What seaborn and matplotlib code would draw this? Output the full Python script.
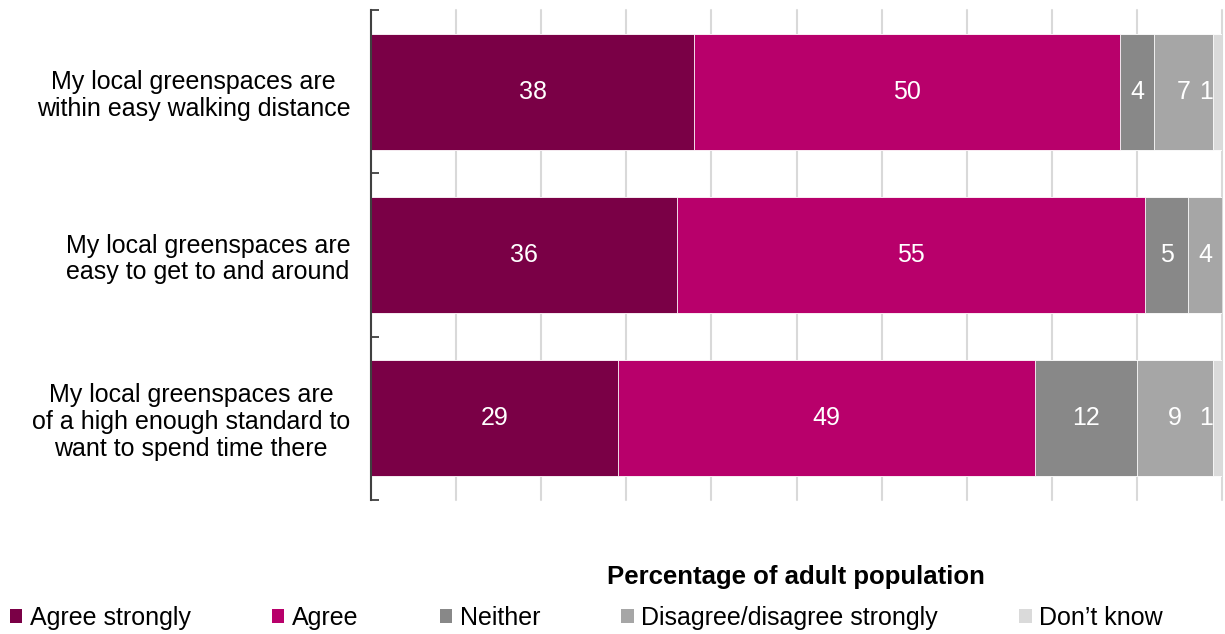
import numpy as np
import pandas as pd
import matplotlib
matplotlib.use("Agg")
import matplotlib.pyplot as plt
from matplotlib.patches import Patch
import seaborn as sns

# Survey statements and response shares (% of adults)
statements = [
    "My local greenspaces are\nwithin easy walking distance",
    "My local greenspaces are\neasy to get to and around",
    "My local greenspaces are\nof a high enough standard to\nwant to spend time there",
]
responses = ["Agree strongly", "Agree", "Neither", "Disagree/disagree strongly", "Don\u2019t know"]
agree_strongly = [38, 36, 29]
agree = [50, 55, 49]
neither = [4, 5, 12]
disagree = [7, 4, 9]
dont_know = [1, 0, 1]
colors = ["#7A0046", "#B8006B", "#888888", "#A6A6A6", "#DADADA"]

sns.set_theme(style="white")
plt.rcParams["font.family"] = ["Liberation Sans", "DejaVu Sans"]
plt.rcParams["text.color"] = "black"
plt.rcParams["ytick.labelcolor"] = "black"

FS = 18

values = np.array([agree_strongly, agree, neither, disagree, dont_know], dtype=float)
cum = np.cumsum(values, axis=0)

fig = plt.figure(figsize=(12.25, 6.34), dpi=100)
ax = fig.add_axes([371 / 1225, 1 - 500 / 634, (1222 - 371) / 1225, 490 / 634])

# Stacked bars: draw cumulative totals from the outermost segment inwards
for i in range(len(responses) - 1, -1, -1):
    df = pd.DataFrame({"statement": statements, "total": cum[i]})
    sns.barplot(data=df, x="total", y="statement", orient="h", color=colors[i],
                width=0.71, edgecolor="white", linewidth=0.6, saturation=1,
                ax=ax, zorder=2)

# Segment value labels
for i in range(len(responses)):
    for j in range(len(statements)):
        v = values[i, j]
        if v <= 0:
            continue
        left = cum[i, j] - v
        if v < 2:
            ax.text(left - 0.1, j, f"{v:g}", ha="right", va="center",
                    color="white", fontsize=FS, zorder=5)
        else:
            ax.text(left + v / 2, j, f"{v:g}", ha="center", va="center",
                    color="white", fontsize=FS, zorder=5)

ax.set_xlim(0, 100)
ax.set_ylim(2.5, -0.5)
ax.set_xticks(np.arange(0, 101, 10))
ax.set_xticklabels([])
ax.tick_params(axis="x", length=0)
ax.xaxis.grid(True, color="#D9D9D9", linewidth=1.5, zorder=0, clip_on=False)
ax.set_axisbelow(True)
ax.set_xlabel("")
ax.set_ylabel("")

# Category labels with boundary ticks on the left spine
ax.tick_params(axis="y", which="major", left=False, length=0, pad=15, labelsize=FS,
               labelcolor="black")
ax.set_yticks([-0.5, 0.5, 1.5, 2.5], minor=True)
ax.tick_params(axis="y", which="minor", left=True, direction="in", length=6,
               width=1.3, color="#404040")
for lbl in ax.get_yticklabels():
    lbl.set_multialignment("center")
    lbl.set_linespacing(1.15)

for side in ["top", "right", "bottom"]:
    ax.spines[side].set_visible(False)
ax.spines["left"].set_color("#404040")
ax.spines["left"].set_linewidth(1.5)

fig.text(796 / 1225, 1 - 577 / 634, "Percentage of adult population",
         ha="center", va="center", fontsize=18.5, fontweight="bold", color="black")

handles = [Patch(facecolor=c, edgecolor="none", label=r) for c, r in zip(colors, responses)]
fig.legend(handles=handles, loc="center left", bbox_to_anchor=(0.008, 1 - 618 / 634),
           ncol=5, frameon=False, fontsize=FS, handlelength=0.5, handleheight=0.5,
           handletextpad=0.3, columnspacing=3.25, borderpad=0, borderaxespad=0)

fig.savefig("out.png", dpi=100)
